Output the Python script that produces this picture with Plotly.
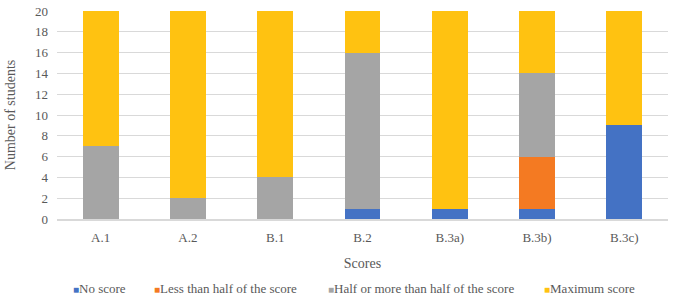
import plotly.graph_objects as go

categories = ["A.1", "A.2", "B.1", "B.2", "B.3a)", "B.3b)", "B.3c)"]
no_score = [0, 0, 0, 1, 1, 1, 9]
less_half = [0, 0, 0, 0, 0, 5, 0]
half_more = [7, 2, 4, 15, 0, 8, 0]
maximum = [13, 18, 16, 4, 19, 6, 11]

series = [
    ("No score", no_score, "#4472C4"),
    ("Less than half of the score", less_half, "#F47A22"),
    ("Half or more than half of the score", half_more, "#A5A5A5"),
    ("Maximum score", maximum, "#FFC211"),
]
legend_x = [71, 152, 326, 542]

font = "Liberation Serif, serif"
txtcol = "#595959"
fig = go.Figure()
for name, vals, col in series:
    fig.add_trace(go.Bar(x=categories, y=vals, name=name, showlegend=False,
                         marker=dict(color=col, line=dict(width=0))))

W, H = 677, 296
L, R, T, B = 57, 9, 11, 77
for (name, vals, col), lx in zip(series, legend_x):
    fig.add_annotation(xref="paper", yref="paper",
                       x=(lx - L) / (W - L - R), y=-(288 - (H - B)) / (H - B - T),
                       xanchor="left", yanchor="middle", showarrow=False,
                       text=f"<span style='color:{col};font-size:10px'>■</span>{name}",
                       font=dict(family=font, size=13, color=txtcol))

fig.update_layout(
    barmode="stack",
    bargap=0.59,
    width=W, height=H,
    margin=dict(l=L, r=R, t=T, b=B, autoexpand=False),
    paper_bgcolor="white", plot_bgcolor="white",
    font=dict(family=font, size=12, color=txtcol),
    showlegend=False,
    xaxis=dict(title=dict(text="Scores", font=dict(family=font, size=14, color=txtcol), standoff=14),
               showline=True, linecolor="#D9D9D9", linewidth=1.5, ticks="",
               tickfont=dict(family=font, size=13), ticklabelstandoff=6, automargin=False),
    yaxis=dict(title=dict(text="Number of students", font=dict(family=font, size=14, color=txtcol), standoff=16),
               range=[0, 20], dtick=2, showgrid=True, gridcolor="#D9D9D9", gridwidth=1.3,
               zeroline=False, ticks="", tickfont=dict(family=font, size=13), ticklabelstandoff=8,
               automargin=False),
)
fig.write_html("out.html", config={"displayModeBar": False},
               post_script="document.body.style.margin='0';document.body.style.overflow='hidden';")
